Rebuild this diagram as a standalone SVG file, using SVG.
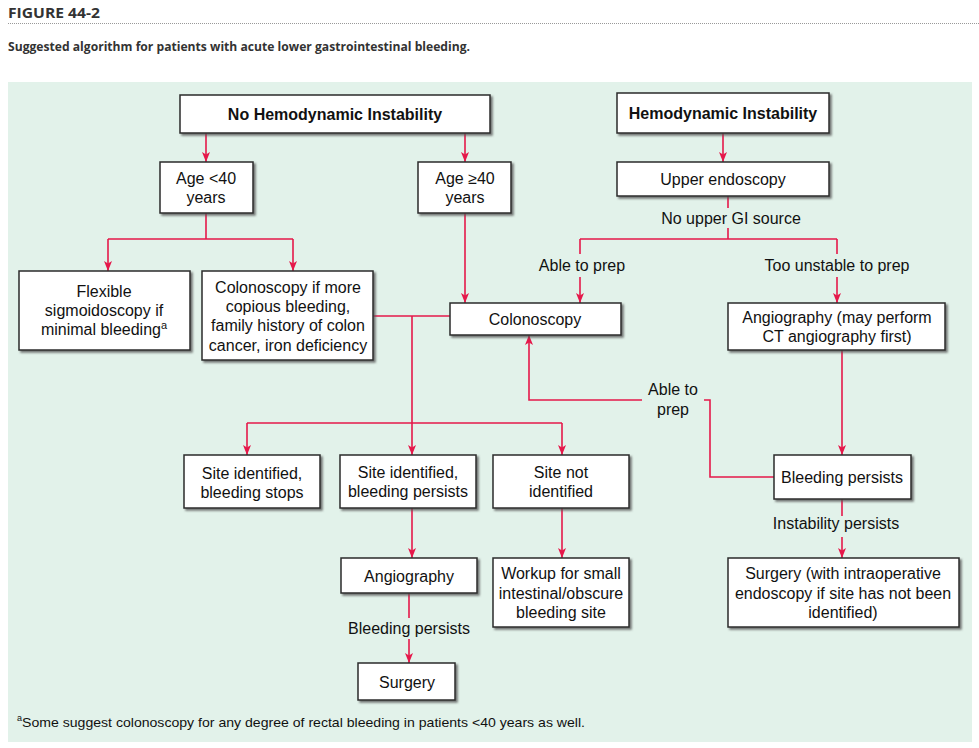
<svg xmlns="http://www.w3.org/2000/svg" width="979" height="748" viewBox="0 0 979 748">
<defs>
<marker id="ah" markerUnits="userSpaceOnUse" markerWidth="10" markerHeight="10" viewBox="0 0 10 10" refX="10" refY="5" orient="auto">
<path d="M0,1 L10,5 L0,9 L2.5,5 z" fill="#e5184a"/>
</marker>
<filter id="sh" x="-5%" y="-5%" width="115%" height="120%">
<feDropShadow dx="2" dy="2" stdDeviation="0.8" flood-color="#555" flood-opacity="0.8"/>
</filter>
</defs>
<style>
.bx{fill:#fff;stroke:#2b2b2b;stroke-width:1.5;filter:url(#sh)}
.t{font-family:"Liberation Sans",Arial,sans-serif;font-size:16px;fill:#111;text-anchor:middle}
.b{font-weight:bold}
.c{fill:none;stroke:#e5184a;stroke-width:1.6}
.a{marker-end:url(#ah)}
.hd{font-family:"Open Sans","Liberation Sans",sans-serif;font-weight:bold;fill:#333}
</style>
<rect width="979" height="748" fill="#fff"/>
<text class="hd" x="8" y="18" font-size="15" textLength="92" lengthAdjust="spacingAndGlyphs">FIGURE 44-2</text>
<line x1="8" y1="23.5" x2="979" y2="23.5" stroke="#999" stroke-width="1" stroke-dasharray="1,1"/>
<text class="hd" x="8" y="51" font-size="13" textLength="462" lengthAdjust="spacingAndGlyphs">Suggested algorithm for patients with acute lower gastrointestinal bleeding.</text>
<rect x="8" y="82" width="964" height="660" fill="#e2f2ea"/>

<g id="connectors">
<path class="c a" d="M206,133 V162"/>
<path class="c a" d="M465,133 V162"/>
<path class="c a" d="M723,133 V162"/>
<path class="c" d="M206,213 V239 M108,239 H293"/>
<path class="c a" d="M108,239 V271"/>
<path class="c a" d="M293,239 V271"/>
<path class="c a" d="M465,213 V303"/>
<path class="c" d="M373,316 H450"/>
<path class="c a" d="M412,316 V455"/>
<path class="c" d="M247,423 H562"/>
<path class="c a" d="M247,423 V455"/>
<path class="c a" d="M562,423 V455"/>
<path class="c" d="M728,196 V208 M728,228 V239 M580,239 H837 M580,239 V254 M837,239 V254"/>
<path class="c a" d="M580,277 V303"/>
<path class="c a" d="M837,277 V303"/>
<path class="c a" d="M842,350 V455"/>
<path class="c" d="M774,477 H710 V400 H704"/>
<path class="c a" d="M642,400 H529 V335"/>
<path class="c" d="M842,499 V516"/>
<path class="c a" d="M842,537 V558"/>
<path class="c a" d="M412,508 V558"/>
<path class="c a" d="M562,508 V558"/>
<path class="c" d="M409,593 V618"/>
<path class="c a" d="M409,639 V663"/>
<text class="t" x="731" y="224">No upper GI source</text>
<text class="t" x="582" y="271">Able to prep</text>
<text class="t" x="837" y="271">Too unstable to prep</text>
<text class="t" x="673" y="395">Able to</text>
<text class="t" x="673" y="415">prep</text>
<text class="t" x="836" y="529">Instability persists</text>
<text class="t" x="409" y="634">Bleeding persists</text>
</g>

<g id="nohemo"><rect class="bx" x="180" y="95" width="310" height="38"/><text class="t b" x="335" y="120">No Hemodynamic Instability</text></g>
<g id="hemo"><rect class="bx" x="617" y="93" width="212" height="40"/><text class="t b" x="723" y="119">Hemodynamic Instability</text></g>
<g id="age_lt40"><rect class="bx" x="160" y="162" width="93" height="51"/><text class="t" x="206" y="184">Age &lt;40</text><text class="t" x="206" y="203">years</text></g>
<g id="age_ge40"><rect class="bx" x="418" y="162" width="93" height="51"/><text class="t" x="465" y="184">Age ≥40</text><text class="t" x="465" y="203">years</text></g>
<g id="upper_endo"><rect class="bx" x="617" y="162" width="212" height="34"/><text class="t" x="723" y="185">Upper endoscopy</text></g>
<g id="flex_sig"><rect class="bx" x="19" y="271" width="171" height="79"/><text class="t" x="104" y="297">Flexible</text><text class="t" x="104" y="316">sigmoidoscopy if</text><text class="t" x="104" y="335">minimal bleeding<tspan font-size="11" dy="-6">a</tspan></text></g>
<g id="colon_if"><rect class="bx" x="202" y="271" width="171" height="89"/><text class="t" x="288" y="293">Colonoscopy if more</text><text class="t" x="288" y="312">copious bleeding,</text><text class="t" x="288" y="331">family history of colon</text><text class="t" x="288" y="351">cancer, iron deficiency</text></g>
<g id="colonoscopy"><rect class="bx" x="450" y="303" width="171" height="32"/><text class="t" x="535" y="325">Colonoscopy</text></g>
<g id="angio_ct"><rect class="bx" x="728" y="303" width="217" height="47"/><text class="t" x="837" y="323">Angiography (may perform</text><text class="t" x="837" y="342">CT angiography first)</text></g>
<g id="site_stops"><rect class="bx" x="184" y="455" width="136" height="53"/><text class="t" x="252" y="479">Site identified,</text><text class="t" x="252" y="498">bleeding stops</text></g>
<g id="site_persists"><rect class="bx" x="340" y="455" width="136" height="53"/><text class="t" x="408" y="478">Site identified,</text><text class="t" x="408" y="497">bleeding persists</text></g>
<g id="site_not"><rect class="bx" x="493" y="455" width="136" height="53"/><text class="t" x="561" y="478">Site not</text><text class="t" x="561" y="497">identified</text></g>
<g id="bleeding_persists"><rect class="bx" x="774" y="455" width="137" height="44"/><text class="t" x="842" y="483">Bleeding persists</text></g>
<g id="angiography"><rect class="bx" x="341" y="558" width="136" height="35"/><text class="t" x="409" y="582">Angiography</text></g>
<g id="workup"><rect class="bx" x="493" y="558" width="136" height="69"/><text class="t" x="561" y="579">Workup for small</text><text class="t" x="561" y="599">intestinal/obscure</text><text class="t" x="561" y="618">bleeding site</text></g>
<g id="surgery_intraop"><rect class="bx" x="728" y="558" width="231" height="69"/><text class="t" x="843" y="579">Surgery (with intraoperative</text><text class="t" x="843" y="599">endoscopy if site has not been</text><text class="t" x="843" y="618">identified)</text></g>
<g id="surgery"><rect class="bx" x="358" y="663" width="97" height="37"/><text class="t" x="407" y="688">Surgery</text></g>

<text font-family="'Liberation Sans',Arial,sans-serif" font-size="9" fill="#111" x="17" y="721">a</text>
<text font-family="'Liberation Sans',Arial,sans-serif" font-size="13" fill="#111" x="22" y="727" textLength="563" lengthAdjust="spacingAndGlyphs">Some suggest colonoscopy for any degree of rectal bleeding in patients &lt;40 years as well.</text>
</svg>
